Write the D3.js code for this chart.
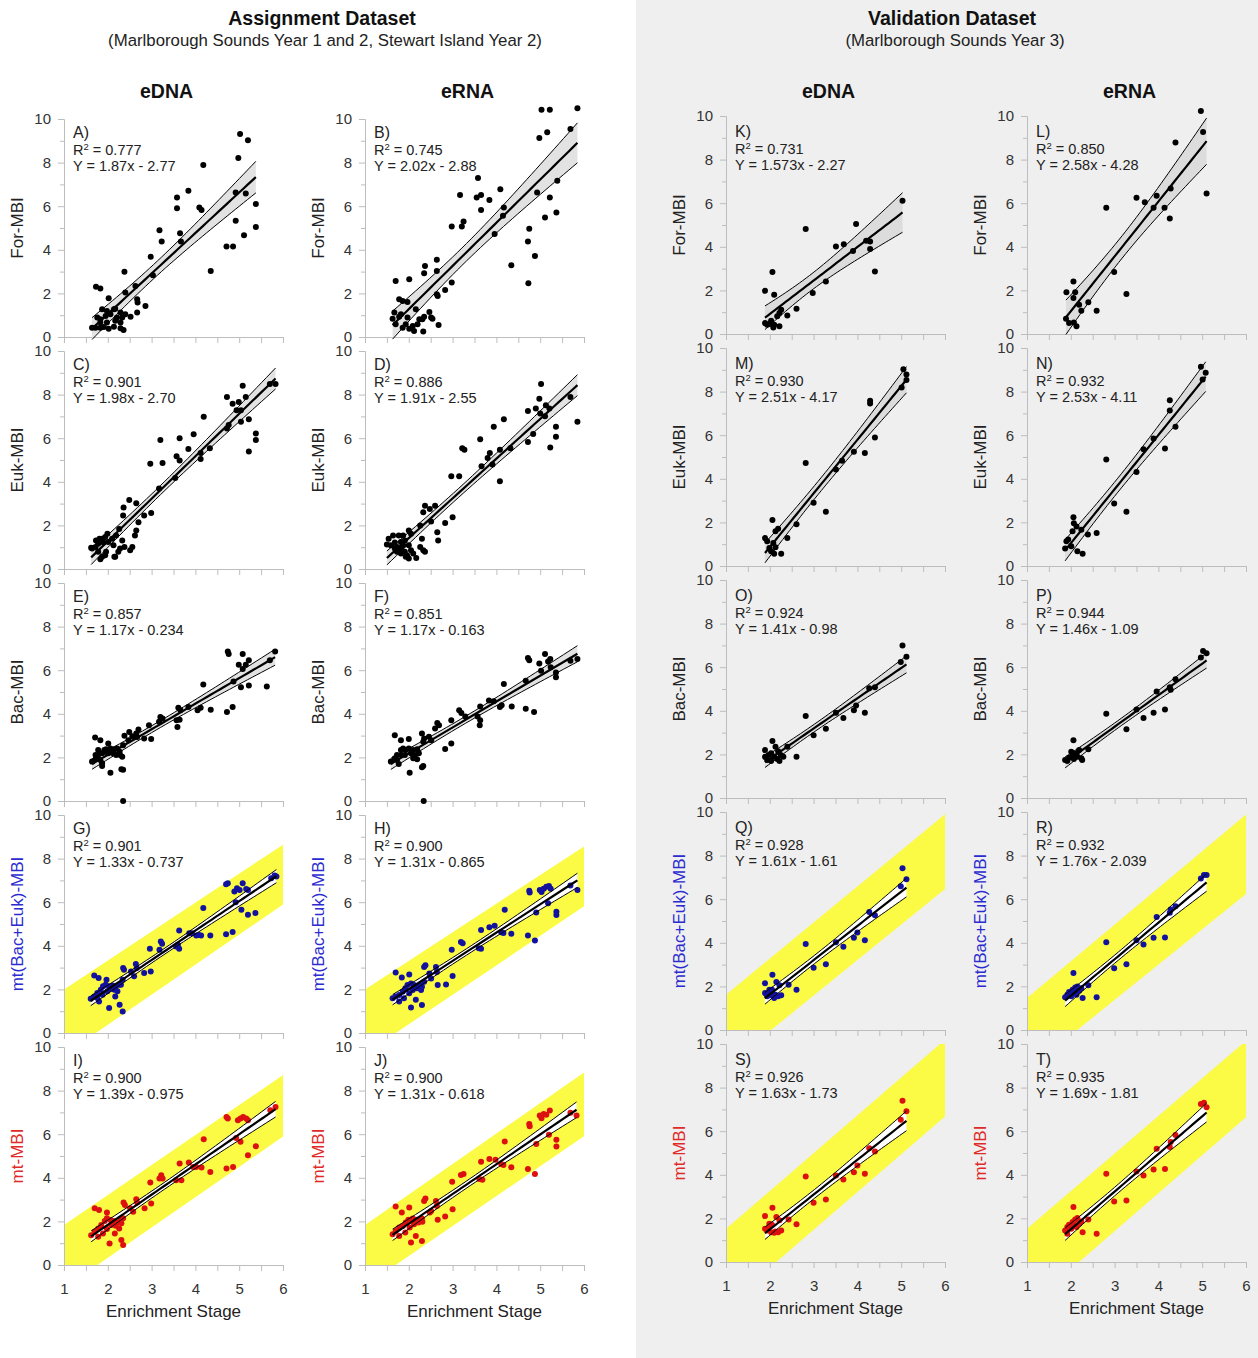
<!DOCTYPE html>
<html><head><meta charset="utf-8">
<script src="https://cdn.jsdelivr.net/npm/d3@7"></script>
<style>
body{margin:0;background:#fff;}
svg text{font-family:"Liberation Sans",Arial,sans-serif;}
</style>
</head><body>
<svg id="chart" width="1258" height="1358"></svg>
<script>
// ---------------- DATA ----------------
const dataA = [[5.02,9.31],[5.20,9.03],[4.98,8.21],[4.18,7.89],[3.84,6.71],[3.58,6.40],[3.58,5.91],[4.09,5.94],[4.14,5.82],[4.92,6.63],[5.15,6.58],[5.38,6.10],[5.38,5.05],[4.92,5.33],[5.11,4.67],[4.71,4.15],[4.86,4.15],[4.35,3.03],[3.18,4.90],[3.23,4.38],[3.65,4.76],[3.67,4.38],[2.98,3.68],[3.03,2.83],[2.38,2.99],[2.40,2.04],[2.63,2.34],[1.73,2.31],[1.83,2.22],[2.02,1.78],[2.67,1.73],[2.68,1.58],[2.86,1.42],[2.67,1.12],[2.52,0.93],[2.17,1.30],[1.64,0.43],[1.72,0.43],[1.83,0.43],[1.91,0.46],[2.02,0.38],[2.14,0.47],[2.29,0.40],[2.36,0.32],[1.76,0.89],[1.83,0.81],[1.95,0.96],[2.06,1.04],[2.21,0.89],[2.33,0.89],[2.40,1.04],[1.87,1.27],[1.98,1.19],[2.14,1.27],[2.29,1.12],[1.83,0.66],[1.98,0.66],[2.17,0.74],[2.29,0.66]];
const dataB = [[5.03,10.43],[5.22,10.43],[5.85,10.49],[5.16,9.39],[4.98,9.13],[5.69,9.54],[3.58,7.29],[4.09,6.78],[3.17,6.51],[3.55,6.40],[3.65,6.51],[3.84,6.28],[3.65,5.83],[4.17,5.94],[4.15,5.56],[4.93,6.63],[5.22,6.40],[5.39,7.17],[5.11,5.48],[5.37,5.71],[3.25,5.30],[2.98,5.07],[3.21,5.07],[3.96,4.72],[4.75,4.96],[4.72,4.38],[4.88,3.71],[4.34,3.29],[4.73,2.47],[2.98,2.50],[2.64,3.54],[2.37,3.26],[2.35,2.92],[2.64,3.03],[1.70,2.57],[2.01,2.65],[2.83,2.16],[2.64,1.96],[2.66,1.88],[1.78,1.73],[1.86,1.65],[1.97,1.61],[2.16,1.27],[2.47,1.15],[2.51,0.89],[2.35,0.93],[2.31,0.81],[2.68,0.55],[2.54,0.84],[1.63,0.84],[1.70,0.58],[1.78,0.93],[1.86,0.43],[1.93,0.58],[2.01,0.38],[2.09,0.51],[2.20,0.58],[2.12,0.28],[2.33,0.25],[1.67,1.12],[1.82,1.04],[1.97,0.89],[2.24,0.81]];
const dataC = [[5.08,8.41],[5.15,7.89],[4.72,7.89],[4.85,7.58],[4.99,7.66],[4.94,7.28],[5.04,7.28],[5.70,8.49],[5.83,8.49],[4.19,6.98],[4.72,6.45],[4.76,6.60],[5.04,6.75],[5.22,6.87],[5.38,6.22],[5.38,5.92],[5.22,5.39],[3.20,5.92],[3.64,6.00],[3.96,6.18],[3.84,5.50],[3.57,5.17],[3.64,4.98],[2.97,4.83],[3.25,4.86],[4.12,5.32],[4.12,5.05],[4.33,5.54],[3.54,4.18],[3.17,3.69],[2.49,3.17],[2.65,3.02],[2.36,2.82],[2.35,2.45],[2.70,2.14],[2.65,1.77],[2.62,1.54],[2.83,2.45],[2.99,2.57],[2.26,1.84],[1.64,0.94],[1.73,1.31],[1.78,1.16],[1.87,1.39],[1.94,1.47],[1.99,1.62],[2.01,1.24],[2.10,1.39],[2.13,1.09],[2.19,1.54],[2.33,1.31],[2.38,1.01],[2.28,0.94],[2.24,0.79],[1.96,0.79],[1.87,0.56],[1.78,0.79],[1.72,1.01],[1.62,0.97],[1.94,0.63],[2.15,0.56],[2.56,1.01],[2.51,0.86],[1.81,1.39],[1.90,1.21],[1.83,0.45],[2.17,0.56]];
const dataD = [[5.02,8.49],[4.98,7.81],[4.72,7.25],[4.90,7.36],[5.13,7.51],[5.21,7.36],[5.00,7.13],[5.11,7.01],[5.69,7.89],[5.85,6.75],[5.36,6.53],[5.36,6.07],[5.23,5.57],[4.72,5.82],[4.84,6.19],[3.94,6.53],[4.17,6.87],[3.63,5.95],[3.22,5.54],[3.27,5.47],[3.85,5.32],[4.08,5.47],[4.32,5.54],[3.80,5.09],[3.66,4.71],[3.91,4.79],[4.08,4.03],[2.97,4.26],[3.15,4.26],[3.00,2.37],[2.83,2.11],[2.65,1.69],[2.67,1.31],[2.37,2.90],[2.60,2.90],[2.48,2.75],[2.33,2.60],[2.51,2.18],[2.26,1.99],[1.87,1.54],[1.64,1.54],[1.77,1.54],[2.00,1.77],[2.05,1.62],[2.30,1.39],[2.26,1.01],[2.33,0.86],[2.37,0.79],[2.17,0.51],[1.59,1.09],[1.68,0.94],[1.73,1.01],[1.77,0.86],[1.82,0.94],[1.87,1.09],[1.91,0.79],[1.96,0.63],[1.82,0.71],[1.73,0.79],[2.00,1.09],[2.05,0.86],[1.93,0.56],[1.68,1.21],[1.82,1.24],[1.91,1.31],[1.54,1.39],[2.10,0.71],[2.00,0.48],[1.50,1.12]];
const dataE = [[4.74,6.86],[4.76,6.74],[5.08,6.74],[5.22,6.46],[4.99,6.25],[5.15,6.25],[5.82,6.86],[5.70,6.46],[5.08,6.05],[5.04,5.22],[5.22,5.30],[5.63,5.25],[4.18,5.34],[4.87,5.48],[4.72,4.08],[4.85,4.31],[4.35,4.19],[4.05,4.16],[4.12,4.28],[3.84,4.31],[3.61,4.28],[3.66,4.16],[3.57,3.70],[3.64,3.73],[3.59,3.40],[3.20,3.85],[3.25,3.78],[3.17,3.63],[2.94,3.47],[2.70,3.28],[2.65,3.10],[2.67,2.94],[2.83,2.87],[2.99,2.84],[2.49,3.17],[2.56,2.97],[2.47,2.79],[2.38,2.99],[2.35,2.56],[1.71,2.91],[1.83,2.79],[2.01,2.64],[1.64,1.81],[1.73,1.96],[1.78,2.11],[1.87,2.19],[1.92,2.34],[1.96,2.37],[2.06,2.41],[2.15,2.37],[2.21,2.41],[2.27,2.26],[2.28,2.11],[2.12,2.19],[1.87,1.73],[1.83,1.88],[1.94,2.26],[1.78,2.34],[1.72,2.11],[2.01,2.19],[2.19,2.11],[2.33,2.03],[1.87,1.61],[2.06,1.30],[2.31,1.46],[2.35,1.43],[2.35,0.0]];
const dataF = [[4.72,6.56],[4.75,6.46],[5.11,6.74],[5.23,6.51],[5.18,6.40],[4.98,6.31],[5.02,5.98],[5.24,6.13],[4.67,5.52],[5.69,6.43],[5.85,6.51],[5.36,5.89],[5.36,5.68],[4.67,4.23],[4.86,4.08],[4.17,5.37],[4.35,4.34],[4.08,4.31],[4.12,4.39],[3.83,4.61],[3.94,4.58],[3.63,4.34],[3.62,3.47],[3.63,3.70],[3.57,3.88],[3.15,4.16],[3.20,4.04],[3.29,3.88],[2.97,3.70],[2.65,3.58],[2.69,3.47],[2.60,3.32],[2.97,2.64],[2.83,2.38],[2.46,2.95],[2.51,2.79],[2.30,3.10],[2.35,2.87],[2.33,2.72],[1.68,3.02],[1.82,2.79],[2.00,2.84],[1.59,1.81],[1.68,1.96],[1.73,2.11],[1.82,2.34],[1.87,2.41],[1.93,2.34],[2.00,2.41],[2.10,2.34],[2.19,2.37],[2.23,2.19],[1.82,2.11],[1.73,1.88],[1.91,2.11],[2.05,2.19],[2.14,2.11],[1.77,1.70],[2.10,1.96],[2.19,1.91],[2.02,1.30],[2.30,1.55],[2.33,1.61],[2.34,0.0]];
const dataG = [[4.74,6.87],[4.70,6.82],[4.89,6.49],[4.95,6.64],[5.01,6.56],[5.08,6.87],[5.16,6.61],[5.20,6.56],[5.05,5.65],[4.92,6.00],[5.20,5.42],[5.37,5.50],[5.73,7.10],[5.81,7.22],[5.85,7.18],[4.18,5.73],[3.86,4.58],[3.92,4.58],[4.02,4.47],[4.08,4.50],[4.13,4.47],[4.34,4.47],[4.70,4.53],[4.85,4.63],[3.63,4.70],[3.56,3.97],[3.63,3.86],[3.60,4.05],[3.21,4.20],[3.24,4.09],[2.96,3.86],[3.18,3.82],[2.98,2.82],[2.83,2.75],[2.64,3.16],[2.66,2.98],[2.35,2.98],[2.37,2.90],[2.53,2.82],[2.60,2.60],[2.34,2.44],[2.30,2.21],[1.69,2.64],[1.79,2.52],[1.97,2.44],[1.61,1.57],[1.69,1.68],[1.76,1.83],[1.84,1.98],[1.89,2.14],[1.95,2.21],[2.03,2.14],[2.11,2.18],[2.18,2.12],[2.26,2.21],[1.76,1.60],[1.88,1.76],[1.99,1.91],[2.07,2.03],[2.15,1.98],[2.22,1.91],[1.80,1.45],[2.17,1.68],[2.03,1.15],[2.27,1.30],[2.34,0.99]];
const dataH = [[4.75,6.52],[4.76,6.44],[4.99,6.56],[5.03,6.47],[5.08,6.62],[5.14,6.71],[5.20,6.74],[5.24,6.62],[5.18,5.95],[4.91,5.53],[5.37,5.56],[5.37,5.41],[5.69,6.77],[5.85,6.56],[4.19,5.65],[4.11,4.62],[4.16,4.59],[4.34,4.55],[4.72,4.47],[4.88,4.24],[3.84,4.85],[3.96,4.92],[3.65,4.73],[3.60,3.89],[3.65,3.86],[3.19,4.17],[3.23,4.12],[2.98,3.82],[3.00,2.61],[2.85,2.23],[2.66,2.20],[2.38,3.11],[2.35,3.03],[2.62,3.03],[2.64,2.80],[2.47,2.73],[2.51,2.50],[2.35,2.35],[2.30,2.12],[1.70,2.77],[2.01,2.68],[1.84,2.55],[1.63,1.59],[1.70,1.67],[1.78,1.74],[1.86,1.89],[1.92,2.05],[1.97,2.20],[2.05,2.27],[2.12,2.20],[2.20,2.12],[2.25,2.20],[1.78,1.44],[1.89,1.59],[2.01,1.82],[2.09,1.97],[2.18,2.05],[2.28,1.97],[2.16,1.52],[2.05,1.17],[2.30,1.29]];
const dataI = [[4.71,6.79],[4.74,6.72],[4.97,6.64],[5.03,6.72],[5.09,6.79],[5.16,6.72],[5.20,6.64],[5.03,5.65],[4.93,5.83],[5.20,5.04],[5.38,5.45],[5.71,7.10],[5.83,7.25],[4.19,5.77],[3.64,4.66],[3.68,3.89],[3.56,3.89],[3.85,4.70],[3.95,4.50],[4.02,4.50],[4.14,4.47],[4.34,4.27],[4.71,4.43],[4.86,4.50],[3.22,4.12],[3.25,3.97],[2.97,3.79],[3.18,3.97],[2.99,2.82],[2.84,2.60],[2.65,3.02],[2.67,2.87],[2.36,2.87],[2.39,2.75],[2.51,2.60],[2.58,2.44],[2.35,2.14],[2.31,1.91],[1.70,2.60],[1.80,2.52],[1.98,2.41],[1.62,1.37],[1.70,1.53],[1.78,1.68],[1.85,1.83],[1.93,2.02],[1.98,2.14],[2.06,2.06],[2.13,2.02],[2.21,1.95],[2.29,2.06],[1.78,1.30],[1.89,1.45],[1.98,1.65],[2.08,1.83],[2.18,1.80],[2.26,1.68],[2.16,1.45],[2.04,0.99],[2.31,1.15],[2.35,0.92]];
const dataJ = [[4.75,6.47],[4.76,6.37],[4.99,6.86],[5.03,6.73],[5.08,6.93],[5.14,6.89],[5.22,7.09],[5.20,5.97],[4.91,5.55],[5.37,5.75],[5.37,5.44],[5.69,6.98],[5.83,6.86],[4.19,5.66],[3.84,4.86],[3.98,4.83],[3.65,4.74],[4.11,4.63],[4.16,4.59],[4.34,4.48],[4.72,4.40],[4.88,4.17],[3.61,3.94],[3.68,3.91],[3.19,4.13],[3.25,4.17],[2.99,3.82],[3.00,2.56],[2.83,2.22],[2.66,2.07],[2.38,3.05],[2.35,2.94],[2.62,2.94],[2.64,2.71],[2.51,2.48],[2.48,2.41],[1.70,2.68],[2.01,2.64],[1.84,2.41],[1.63,1.41],[1.70,1.56],[1.78,1.72],[1.86,1.79],[1.93,1.95],[1.99,2.07],[2.09,2.13],[2.16,2.07],[2.24,2.02],[2.30,2.13],[1.78,1.33],[1.92,1.49],[2.02,1.72],[2.12,1.87],[2.22,1.95],[2.31,1.98],[2.16,1.33],[2.05,1.03],[2.30,1.10]];
const dataK = [[5.03,6.11],[3.97,5.05],[2.82,4.82],[3.51,4.01],[3.69,4.12],[3.90,3.81],[4.20,4.28],[4.29,4.24],[4.29,3.90],[4.40,2.87],[2.06,2.84],[1.89,1.98],[2.10,1.80],[2.98,1.88],[3.28,2.41],[2.61,1.16],[2.26,1.11],[2.22,0.96],[2.40,0.85],[2.17,0.81],[1.89,0.50],[1.99,0.46],[2.03,0.61],[2.10,0.43],[2.08,0.30],[2.22,0.35],[1.94,0.43]];
const dataL = [[4.97,10.23],[5.02,9.27],[4.39,8.78],[5.10,6.45],[3.50,6.25],[3.69,6.04],[3.96,6.34],[3.89,5.79],[4.14,5.79],[4.26,5.30],[4.28,6.68],[2.81,5.79],[2.99,2.84],[3.27,1.83],[2.59,1.07],[1.90,1.91],[2.06,2.41],[2.10,1.92],[2.06,1.65],[2.40,1.46],[2.19,1.34],[2.24,1.07],[1.89,0.70],[1.96,0.50],[2.07,0.53],[2.13,0.35]];
const dataM = [[5.05,9.02],[5.12,8.79],[5.12,8.53],[5.01,8.19],[4.29,7.58],[4.29,7.45],[4.40,5.89],[4.17,5.18],[3.92,5.24],[3.65,4.83],[3.51,4.43],[2.82,4.73],[3.00,2.90],[3.28,2.49],[2.61,1.92],[2.06,2.11],[1.89,1.28],[1.94,1.13],[2.19,1.71],[2.13,1.59],[2.40,1.28],[2.08,1.06],[2.13,0.86],[2.03,0.68],[2.10,0.56],[2.26,0.56],[1.99,0.83]];
const dataN = [[4.97,9.14],[5.08,8.87],[5.01,8.56],[4.26,7.60],[4.26,7.13],[4.39,6.39],[4.15,5.39],[3.89,5.85],[3.66,5.36],[3.50,4.31],[2.81,4.88],[2.99,2.87],[3.27,2.49],[2.59,1.51],[2.39,1.44],[2.06,2.24],[2.07,1.96],[2.13,1.81],[2.04,1.59],[2.24,1.66],[1.90,1.13],[1.94,1.21],[2.01,0.91],[2.15,0.68],[2.27,0.56],[1.87,0.80]];
const dataO = [[5.03,7.00],[5.12,6.48],[4.99,6.24],[4.27,5.03],[4.40,5.08],[4.17,3.91],[3.92,4.02],[3.97,4.24],[3.68,3.67],[3.51,3.91],[2.82,3.76],[3.28,3.18],[3.00,2.88],[2.61,1.89],[2.06,2.61],[1.89,2.20],[2.13,2.35],[2.19,2.15],[2.40,2.35],[1.89,1.89],[1.97,1.97],[2.03,2.05],[2.10,1.89],[2.17,1.79],[2.25,1.97],[1.94,1.74],[2.03,1.70],[2.22,1.70],[2.31,1.89]];
const dataP = [[5.02,6.74],[5.10,6.64],[4.97,6.44],[4.39,5.45],[4.26,5.08],[4.28,4.97],[3.96,4.88],[4.15,4.06],[3.89,3.91],[3.66,3.67],[3.50,4.06],[2.81,3.86],[3.27,3.15],[2.40,2.24],[2.06,2.65],[1.87,1.74],[1.96,1.85],[2.04,1.97],[2.13,2.05],[2.19,2.20],[1.92,1.70],[2.07,1.79],[2.24,1.82],[2.15,1.89],[2.01,2.12],[2.26,1.74]];
const dataQ = [[5.03,7.42],[5.12,6.92],[4.99,6.59],[4.27,5.41],[4.40,5.26],[4.17,4.12],[3.92,4.23],[4.00,4.47],[3.68,3.82],[3.51,4.02],[2.82,3.94],[3.28,3.02],[3.00,2.86],[2.61,1.85],[2.06,2.53],[1.89,2.15],[2.43,2.08],[2.15,2.20],[2.22,2.05],[1.89,1.70],[1.99,1.77],[2.05,1.85],[2.13,1.62],[2.19,1.55],[2.26,1.59],[1.94,1.55],[2.03,1.59],[2.10,1.47],[1.99,1.85]];
const dataR = [[4.97,6.95],[5.04,7.11],[5.10,7.11],[4.39,5.68],[4.28,5.53],[4.26,5.38],[3.96,5.18],[4.15,4.24],[3.89,4.23],[3.66,3.92],[3.50,4.12],[2.81,4.02],[2.99,2.83],[3.27,3.02],[2.59,1.50],[2.40,2.05],[2.06,2.61],[2.27,1.47],[1.87,1.50],[1.92,1.62],[1.96,1.74],[2.04,1.85],[2.10,1.95],[2.15,2.00],[2.19,1.80],[2.01,1.55],[2.13,1.62],[2.07,1.74],[2.24,1.92]];
const dataS = [[5.03,7.40],[5.12,6.92],[4.99,6.53],[4.27,5.22],[4.40,5.07],[4.17,4.05],[3.92,4.12],[4.00,4.43],[3.68,3.79],[3.51,3.97],[2.82,3.92],[3.28,2.87],[3.00,2.72],[2.61,1.73],[2.06,2.49],[1.89,2.11],[2.43,1.95],[2.15,2.06],[2.22,1.91],[1.89,1.53],[1.99,1.60],[2.05,1.71],[2.13,1.40],[2.19,1.37],[2.26,1.45],[1.94,1.45],[2.03,1.37],[2.10,1.34],[1.99,1.76]];
const dataT = [[4.97,7.25],[5.04,7.30],[5.10,7.10],[4.39,5.83],[4.28,5.50],[4.26,5.27],[3.96,5.19],[4.15,4.27],[3.89,4.24],[3.66,3.97],[3.50,4.15],[2.81,4.05],[2.99,2.78],[3.27,2.82],[2.59,1.30],[2.40,1.95],[2.06,2.52],[2.27,1.37],[1.87,1.45],[1.92,1.60],[1.96,1.71],[2.04,1.83],[2.10,1.95],[2.15,2.02],[2.19,1.76],[2.01,1.53],[2.13,1.60],[2.07,1.71],[2.24,1.86],[1.92,1.30]];

const panelData = {A:dataA,B:dataB,C:dataC,D:dataD,E:dataE,F:dataF,G:dataG,H:dataH,I:dataI,J:dataJ,
                   K:dataK,L:dataL,M:dataM,N:dataN,O:dataO,P:dataP,Q:dataQ,R:dataR,S:dataS,T:dataT};

// panel grid: columns (each lists panel ids top to bottom)
const columns = [["A","C","E","G","I"],["B","D","F","H","J"],["K","M","O","Q","S"],["L","N","P","R","T"]];
const groupTitles = ["Assignment Dataset","Validation Dataset"];
const groupSubtitles = ["(Marlborough Sounds Year 1 and 2, Stewart Island Year 2)","(Marlborough Sounds Year 3)"];
const columnHeaders = ["eDNA","eRNA","eDNA","eRNA"];
const rowTitles = ["For-MBI","Euk-MBI","Bac-MBI","mt(Bac+Euk)-MBI","mt-MBI"];
const xTitle = "Enrichment Stage";
const xTickValues = [1,1.5,2,2.5,3,3.5,4,4.5,5,5.5,6];
const yMajorTicks = [0,2,4,6,8,10];
const yMinorTicks = [1,3,5,7,9];

const r2Labels = {A:"0.777",B:"0.745",C:"0.901",D:"0.886",E:"0.857",F:"0.851",G:"0.901",H:"0.900",I:"0.900",J:"0.900",
                  K:"0.731",L:"0.850",M:"0.930",N:"0.932",O:"0.924",P:"0.944",Q:"0.928",R:"0.932",S:"0.926",T:"0.935"};
const eqLabels = {A:"Y = 1.87x - 2.77",B:"Y = 2.02x - 2.88",C:"Y = 1.98x - 2.70",D:"Y = 1.91x - 2.55",E:"Y = 1.17x - 0.234",
                  F:"Y = 1.17x - 0.163",G:"Y = 1.33x - 0.737",H:"Y = 1.31x - 0.865",I:"Y = 1.39x - 0.975",J:"Y = 1.31x - 0.618",
                  K:"Y = 1.573x - 2.27",L:"Y = 2.58x - 4.28",M:"Y = 2.51x - 4.17",N:"Y = 2.53x - 4.11",O:"Y = 1.41x - 0.98",
                  P:"Y = 1.46x - 1.09",Q:"Y = 1.61x - 1.61",R:"Y = 1.76x - 2.039",S:"Y = 1.63x - 1.73",T:"Y = 1.69x - 1.81"};

// yellow tolerance bands: y value at x=1 and at x=6
const yellowUpper = {G:[2.0,8.64],H:[1.99,8.56],I:[1.84,8.71],J:[1.84,8.83],Q:[1.62,9.9],R:[1.47,9.88],S:[1.52,10.2],T:[1.53,10.15]};
const yellowLower = {G:[-1.0,5.89],H:[-0.95,5.81],I:[-1.06,5.89],J:[-0.96,5.91],Q:[-1.68,6.47],R:[-1.86,6.24],S:[-1.99,6.67],T:[-2.07,6.64]};

// ---------------- STYLE / LAYOUT ----------------
const rowColors = ["#222","#222","#222","#2b2bd0","#e02a2a"];
const pointColors = ["#000","#000","#000","#12129e","#dd1010"];
const colX = [64,365,726,1027];
const rowTop = [119,119,116,116];
const pitch = 232, PW = 219, PH = 218;
const axisGray = "#bdbdbd";

const svg = d3.select("#chart");
svg.append("rect").attr("x",0).attr("y",0).attr("width",1258).attr("height",1358).attr("fill","#fff");
svg.append("rect").attr("x",636).attr("y",0).attr("width",622).attr("height",1358).attr("fill","#efefef");
const defs = svg.append("defs");

// titles
groupTitles.forEach((t,i)=>{
  svg.append("text").attr("x",[322,952][i]).attr("y",25).attr("text-anchor","middle")
     .attr("font-size",19.5).attr("font-weight","bold").attr("fill","#111").text(t);
  svg.append("text").attr("x",[325,955][i]).attr("y",46).attr("text-anchor","middle")
     .attr("font-size",16.8).attr("fill","#222").text(groupSubtitles[i]);
});
columnHeaders.forEach((h,c)=>{
  svg.append("text").attr("x",colX[c]+PW/2-7).attr("y",98).attr("text-anchor","middle")
     .attr("font-size",19.5).attr("font-weight","bold").attr("fill","#111").text(h);
});

function regressionBand(pts){
  const n = pts.length;
  const mx = d3.mean(pts,d=>d[0]), my = d3.mean(pts,d=>d[1]);
  let sxx=0, sxy=0;
  pts.forEach(([u,v])=>{sxx+=(u-mx)*(u-mx); sxy+=(u-mx)*(v-my);});
  const b = sxy/sxx, a = my-b*mx;
  let sse=0;
  pts.forEach(([u,v])=>{const r=v-(a+b*u); sse+=r*r;});
  const s = Math.sqrt(sse/(n-2));
  const t = n>40 ? 1.99 : 2.06;
  const [xmin,xmax] = d3.extent(pts,d=>d[0]);
  return d3.range(0,41).map(i=>{
    const xv = xmin+(xmax-xmin)*i/40, yh = a+b*xv;
    const h = t*s*Math.sqrt(1/n+(xv-mx)*(xv-mx)/sxx);
    return {x:xv, y:yh, lo:yh-h, hi:yh+h};
  });
}

columns.forEach((ids,c)=>{
  ids.forEach((id,r)=>{
    const x0 = colX[c], top = rowTop[c]+r*pitch;
    const x = d3.scaleLinear().domain([1,6]).range([x0,x0+PW]);
    const y = d3.scaleLinear().domain([0,10]).range([top+PH,top]);
    const g = svg.append("g");
    const clipId = "clip"+id;
    defs.append("clipPath").attr("id",clipId).append("rect")
        .attr("x",x0).attr("y",top).attr("width",PW).attr("height",PH);

    // yellow band
    if (yellowUpper[id]) {
      const u = yellowUpper[id], l = yellowLower[id];
      const poly = [[1,u[0]],[6,u[1]],[6,l[1]],[1,l[0]]];
      g.append("polygon").attr("clip-path",`url(#${clipId})`)
       .attr("points",poly.map(p=>x(p[0])+","+y(p[1])).join(" "))
       .attr("fill","#fbfb45");
    }

    // axes
    const isBottom = r===ids.length-1;
    const xAxis = d3.axisBottom(x).tickValues(xTickValues).tickSize(6).tickSizeOuter(0).tickPadding(12)
        .tickFormat(d=> (isBottom && Number.isInteger(d)) ? d : "");
    const gx = g.append("g").attr("transform",`translate(0,${top+PH})`).call(xAxis);
    if (!isBottom) gx.selectAll(".tick text").remove();
    const yAxis = d3.axisLeft(y).tickValues(yMajorTicks).tickSize(6).tickSizeOuter(0).tickPadding(7);
    const gy = g.append("g").attr("transform",`translate(${x0},0)`).call(yAxis);
    const yMinor = d3.axisLeft(y).tickValues(yMinorTicks).tickSize(4).tickSizeOuter(0).tickFormat("");
    const gym = g.append("g").attr("transform",`translate(${x0},0)`).call(yMinor);
    gym.selectAll(".tick text").remove();
    [gx,gy,gym].forEach(a=>{
      a.selectAll(".domain").attr("stroke",axisGray);
      a.selectAll(".tick line").attr("stroke",axisGray);
      a.selectAll(".tick text").attr("fill","#333").attr("font-size",15)
        .attr("font-family",'"Liberation Sans",Arial,sans-serif');
    });

    // regression band
    const band = regressionBand(panelData[id]);
    const yellowPanel = !!yellowUpper[id];
    g.append("path").datum(band)
     .attr("d",d3.area().x(d=>x(d.x)).y0(d=>y(d.lo)).y1(d=>y(d.hi)))
     .attr("fill", yellowPanel ? "#ffffff" : (c<2 ? "#e2e2e2" : "#dcdcdc"));

    // points
    g.append("g").selectAll("circle").data(panelData[id]).join("circle")
     .attr("cx",d=>x(d[0])).attr("cy",d=>y(d[1])).attr("r",3)
     .attr("fill",pointColors[r]);

    // band edges and fit line
    ["lo","hi"].forEach(k=>{
      g.append("path").datum(band)
       .attr("d",d3.line().x(d=>x(d.x)).y(d=>y(d[k])))
       .attr("fill","none").attr("stroke","#000").attr("stroke-width",1);
    });
    g.append("path").datum(band)
     .attr("d",d3.line().x(d=>x(d.x)).y(d=>y(d.y)))
     .attr("fill","none").attr("stroke","#000").attr("stroke-width",2.2);

    // panel texts
    const tx = x0+9, shift = c<2 ? 0 : 2;
    g.append("text").attr("x",tx).attr("y",top+19+shift).attr("font-size",16).attr("fill","#222").text(id+")");
    const r2 = g.append("text").attr("x",tx).attr("y",top+36+shift).attr("font-size",14.5).attr("fill","#222");
    r2.append("tspan").text("R");
    r2.append("tspan").attr("font-size",9.5).attr("dy",-5).text("2");
    r2.append("tspan").attr("dy",5).text(" = "+r2Labels[id]);
    g.append("text").attr("x",tx).attr("y",top+51.5+shift).attr("font-size",14.5).attr("fill","#222").text(eqLabels[id]);

    // y title
    g.append("text").attr("transform",`translate(${x0-47},${top+PH/2}) rotate(-90)`)
     .attr("text-anchor","middle").attr("dy","0.35em").attr("font-size",17)
     .attr("fill",rowColors[r]).text(rowTitles[r]);

    if (isBottom) {
      g.append("text").attr("x",x0+PW/2).attr("y",top+PH+52).attr("text-anchor","middle")
       .attr("font-size",17).attr("fill","#222").text(xTitle);
    }
  });
});
</script>
</body></html>
